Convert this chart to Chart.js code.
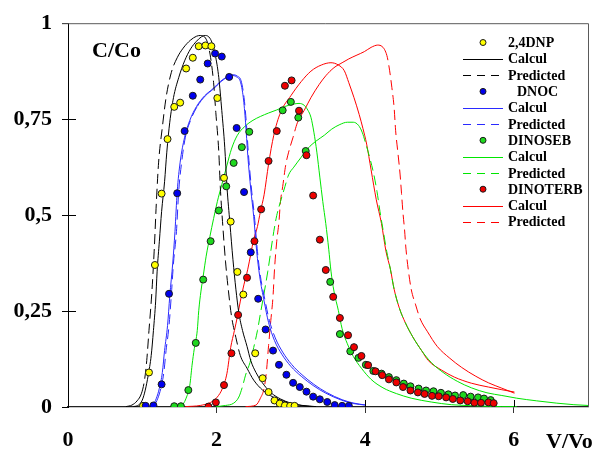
<!DOCTYPE html>
<html>
<head>
<meta charset="utf-8">
<script src="https://cdn.jsdelivr.net/npm/chart.js@4.4.0/dist/chart.umd.min.js"></script>
<style>
  html, body { margin: 0; padding: 0; background: #fff; }
  #wrap { width: 593px; height: 449px; }
</style>
</head>
<body>
<div id="wrap"><canvas id="breakthroughChart"></canvas></div>
<script>
// axis ticks
const xTicks = [0, 2, 4, 6];
const xTickLabels = ['0', '2', '4', '6'];
const yTicks = [0, 0.25, 0.5, 0.75, 1];
const yTickLabels = ['0', '0,25', '0,5', '0,75', '1'];

// measured points [V/Vo, C/Co]
const dnpPoints = [[1.01,0.003],[1.09,0.09],[1.17,0.37],[1.26,0.556],[1.34,0.698],[1.43,0.782],[1.51,0.793],[1.59,0.882],[1.68,0.910],[1.76,0.940],[1.85,0.942],[1.93,0.940],[2.01,0.805],[2.10,0.597],[2.19,0.483],[2.28,0.352],[2.36,0.293],[2.52,0.140],[2.62,0.075],[2.70,0.039],[2.78,0.017],[2.85,0.009],[2.92,0.004],[2.99,0.003],[3.05,0.003]];
const dnocPoints = [[1.045,0.003],[1.15,0.004],[1.26,0.059],[1.36,0.295],[1.47,0.557],[1.57,0.719],[1.68,0.811],[1.78,0.853],[1.88,0.895],[1.98,0.921],[2.07,0.913],[2.17,0.860],[2.27,0.727],[2.37,0.560],[2.46,0.403],[2.56,0.282],[2.66,0.202],[2.76,0.147],[2.84,0.110],[2.94,0.084],[3.03,0.063],[3.12,0.052],[3.21,0.040],[3.30,0.027],[3.39,0.020],[3.49,0.013],[3.59,0.005],[3.69,0.003],[3.78,0.003]];
const dinosebPoints = [[1.43,0.002],[1.52,0.002],[1.62,0.044],[1.72,0.167],[1.82,0.332],[1.92,0.432],[2.03,0.512],[2.13,0.575],[2.23,0.636],[2.34,0.677],[2.44,0.717],[2.89,0.773],[3.00,0.795],[3.10,0.754],[3.20,0.667],[3.53,0.326],[3.66,0.190],[3.80,0.145],[3.91,0.128],[4.01,0.110],[4.11,0.094],[4.22,0.087],[4.32,0.078],[4.42,0.070],[4.52,0.061],[4.61,0.054],[4.72,0.048],[4.82,0.043],[4.92,0.041],[5.02,0.037],[5.12,0.033],[5.21,0.030],[5.32,0.031],[5.42,0.027],[5.52,0.025],[5.60,0.022],[5.69,0.018]];
const dinoterbPoints = [[1.89,0.001],[1.99,0.012],[2.10,0.057],[2.20,0.140],[2.29,0.240],[2.41,0.337],[2.51,0.432],[2.60,0.515],[2.70,0.641],[2.81,0.719],[2.92,0.837],[3.01,0.851],[3.11,0.772],[3.21,0.656],[3.30,0.551],[3.39,0.436],[3.47,0.357],[3.57,0.287],[3.66,0.232],[3.77,0.187],[3.85,0.156],[3.95,0.133],[4.04,0.109],[4.14,0.093],[4.23,0.083],[4.32,0.072],[4.42,0.064],[4.51,0.052],[4.61,0.043],[4.71,0.038],[4.80,0.034],[4.90,0.029],[4.99,0.028],[5.09,0.025],[5.18,0.021],[5.28,0.017],[5.38,0.015],[5.47,0.011],[5.56,0.011],[5.66,0.012],[5.73,0.010]];

// model curves [V/Vo, C/Co]
const dnpCalcul = [[0.88,0.001],[0.95,0.005],[1.00,0.018],[1.04,0.044],[1.08,0.083],[1.12,0.134],[1.15,0.199],[1.18,0.276],[1.20,0.354],[1.23,0.432],[1.26,0.509],[1.30,0.587],[1.33,0.664],[1.37,0.742],[1.42,0.806],[1.49,0.858],[1.57,0.902],[1.65,0.933],[1.73,0.953],[1.80,0.965],[1.85,0.968],[1.91,0.961],[1.95,0.943],[1.99,0.910],[2.03,0.858],[2.07,0.773],[2.11,0.677],[2.14,0.574],[2.18,0.478],[2.22,0.385],[2.26,0.307],[2.30,0.245],[2.35,0.199],[2.41,0.158],[2.46,0.121],[2.53,0.090],[2.64,0.057],[2.74,0.036],[2.86,0.021],[3.00,0.010],[3.14,0.004],[3.30,0.001]];
const dnpPredicted = [[0.78,0.001],[0.86,0.005],[0.93,0.016],[0.99,0.036],[1.03,0.070],[1.06,0.121],[1.09,0.199],[1.13,0.302],[1.16,0.406],[1.19,0.535],[1.22,0.638],[1.27,0.729],[1.32,0.806],[1.39,0.871],[1.47,0.910],[1.55,0.935],[1.65,0.956],[1.73,0.966],[1.78,0.968],[1.84,0.964],[1.88,0.948],[1.92,0.910],[1.96,0.845],[1.99,0.767],[2.03,0.664],[2.05,0.574],[2.08,0.483],[2.12,0.380],[2.16,0.302],[2.20,0.238],[2.26,0.181],[2.32,0.134],[2.41,0.101],[2.50,0.070],[2.62,0.044],[2.76,0.026],[2.89,0.016],[3.03,0.008],[3.16,0.004],[3.34,0.001]];
const dnocCalcul = [[1.08,0.001],[1.14,0.005],[1.19,0.023],[1.23,0.049],[1.27,0.090],[1.30,0.147],[1.34,0.212],[1.37,0.289],[1.41,0.375],[1.44,0.457],[1.47,0.561],[1.51,0.638],[1.57,0.703],[1.64,0.747],[1.73,0.783],[1.84,0.811],[1.95,0.829],[2.05,0.848],[2.14,0.860],[2.20,0.864],[2.27,0.860],[2.32,0.848],[2.36,0.806],[2.39,0.742],[2.42,0.656],[2.46,0.568],[2.50,0.496],[2.54,0.406],[2.58,0.341],[2.64,0.276],[2.70,0.220],[2.78,0.173],[2.88,0.137],[3.00,0.106],[3.14,0.080],[3.30,0.056],[3.47,0.036],[3.68,0.018],[3.84,0.009],[4.01,0.005]];
const dnocPredicted = [[1.10,0.001],[1.16,0.005],[1.21,0.023],[1.25,0.049],[1.29,0.090],[1.32,0.147],[1.36,0.212],[1.39,0.289],[1.42,0.375],[1.46,0.457],[1.49,0.561],[1.53,0.638],[1.58,0.703],[1.65,0.747],[1.74,0.783],[1.85,0.811],[1.96,0.829],[2.06,0.848],[2.15,0.860],[2.21,0.866],[2.28,0.862],[2.33,0.850],[2.37,0.806],[2.40,0.742],[2.43,0.656],[2.47,0.568],[2.51,0.496],[2.55,0.406],[2.59,0.341],[2.65,0.280],[2.71,0.226],[2.79,0.180],[2.89,0.143],[3.01,0.111],[3.15,0.084],[3.31,0.059],[3.48,0.038],[3.69,0.019],[3.85,0.010],[4.01,0.005]];
const dinosebCalcul = [[1.49,0.001],[1.55,0.008],[1.59,0.023],[1.64,0.057],[1.67,0.109],[1.70,0.152],[1.74,0.199],[1.76,0.251],[1.79,0.302],[1.82,0.341],[1.86,0.393],[1.91,0.444],[1.96,0.491],[2.01,0.535],[2.07,0.579],[2.14,0.630],[2.20,0.672],[2.28,0.708],[2.38,0.731],[2.49,0.747],[2.59,0.757],[2.70,0.766],[2.81,0.774],[2.92,0.783],[3.03,0.789],[3.11,0.791],[3.18,0.786],[3.23,0.773],[3.27,0.755],[3.31,0.716],[3.35,0.664],[3.39,0.599],[3.43,0.535],[3.47,0.478],[3.51,0.411],[3.54,0.354],[3.58,0.302],[3.64,0.251],[3.69,0.204],[3.76,0.165],[3.84,0.132],[3.95,0.101],[4.08,0.072],[4.24,0.050],[4.42,0.035],[4.62,0.023],[4.89,0.013],[5.16,0.006],[5.50,0.003],[5.84,0.001],[6.04,0.001]];
const dinosebPredicted = [[1.99,0.001],[2.12,0.004],[2.23,0.010],[2.30,0.026],[2.35,0.054],[2.39,0.083],[2.45,0.116],[2.50,0.155],[2.55,0.199],[2.59,0.243],[2.64,0.297],[2.69,0.354],[2.73,0.406],[2.77,0.457],[2.81,0.499],[2.86,0.535],[2.92,0.574],[2.97,0.605],[3.04,0.625],[3.14,0.651],[3.23,0.674],[3.34,0.693],[3.45,0.708],[3.55,0.724],[3.66,0.736],[3.76,0.742],[3.84,0.742],[3.91,0.734],[3.96,0.716],[4.01,0.685],[4.06,0.651],[4.11,0.612],[4.16,0.561],[4.20,0.509],[4.24,0.463],[4.29,0.406],[4.34,0.359],[4.39,0.307],[4.46,0.258],[4.54,0.220],[4.64,0.183],[4.76,0.147],[4.89,0.116],[5.05,0.090],[5.24,0.067],[5.43,0.050],[5.64,0.037],[5.84,0.030],[6.04,0.023],[6.31,0.016],[6.58,0.010],[6.81,0.006],[7.0,0.004]];
const dinoterbCalcul = [[1.58,0.001],[1.78,0.004],[1.92,0.012],[2.01,0.026],[2.08,0.049],[2.14,0.088],[2.19,0.155],[2.24,0.199],[2.28,0.235],[2.32,0.276],[2.37,0.320],[2.42,0.359],[2.46,0.398],[2.50,0.437],[2.55,0.470],[2.59,0.509],[2.64,0.553],[2.70,0.633],[2.77,0.708],[2.86,0.767],[3.00,0.811],[3.14,0.848],[3.27,0.875],[3.41,0.891],[3.54,0.897],[3.64,0.891],[3.72,0.876],[3.78,0.845],[3.85,0.806],[3.92,0.762],[3.97,0.726],[4.02,0.685],[4.08,0.618],[4.15,0.540],[4.22,0.478],[4.28,0.406],[4.34,0.359],[4.39,0.307],[4.46,0.258],[4.54,0.220],[4.64,0.183],[4.76,0.147],[4.85,0.121],[5.03,0.096],[5.20,0.078],[5.43,0.062],[5.66,0.052],[5.84,0.045],[6.01,0.039]];
const dinoterbPredicted = [[2.39,0.001],[2.53,0.005],[2.59,0.023],[2.64,0.049],[2.67,0.090],[2.70,0.160],[2.73,0.225],[2.76,0.289],[2.78,0.359],[2.81,0.432],[2.84,0.483],[2.86,0.535],[2.89,0.574],[2.93,0.630],[2.97,0.664],[3.03,0.703],[3.09,0.742],[3.18,0.773],[3.27,0.806],[3.38,0.840],[3.47,0.863],[3.58,0.884],[3.69,0.897],[3.78,0.907],[3.89,0.917],[3.99,0.926],[4.08,0.937],[4.17,0.943],[4.23,0.939],[4.27,0.928],[4.30,0.910],[4.33,0.876],[4.36,0.832],[4.39,0.780],[4.41,0.721],[4.44,0.664],[4.47,0.607],[4.49,0.556],[4.51,0.504],[4.53,0.463],[4.55,0.411],[4.58,0.359],[4.62,0.307],[4.68,0.266],[4.74,0.230],[4.84,0.196],[4.97,0.158],[5.14,0.127],[5.30,0.103],[5.49,0.080],[5.66,0.063],[5.84,0.049],[6.01,0.036]];

const SERIF = "'Liberation Serif', 'Times New Roman', serif";

function pts(arr) {
    return arr.map(p => ({ x: p[0], y: p[1] }));
}

// the old plotting program restarts the dash on every segment,
// so steep parts look dashed and flat parts look solid
function steepDash(ctx) {
    const dx = Math.abs(ctx.p1.x - ctx.p0.x);
    const dy = Math.abs(ctx.p1.y - ctx.p0.y);
    return dy > 2 * dx ? [10, 5] : undefined;
}

function markerSet(label, data, color, order) {
    return {
        label: label,
        data: pts(data),
        showLine: false,
        pointRadius: 3.5,
        pointBackgroundColor: color,
        pointBorderColor: '#1a1a1a',
        pointBorderWidth: 1,
        backgroundColor: color,
        order: order,
        kind: 'marker'
    };
}

function curveSet(label, data, color, predicted) {
    const ds = {
        label: label,
        data: pts(data),
        showLine: true,
        pointRadius: 0,
        borderColor: color,
        borderWidth: 1,
        cubicInterpolationMode: 'monotone',
        order: 20,
        kind: predicted ? 'dash' : 'line'
    };
    if (predicted) ds.segment = { borderDash: steepDash };
    return ds;
}

const framePlugin = {
    id: 'frame',
    afterDraw(chart) {
        const { ctx, chartArea: a, scales } = chart;
        ctx.save();

        // top and right border
        ctx.strokeStyle = '#5a5a5a';
        ctx.lineWidth = 1;
        ctx.beginPath();
        ctx.moveTo(a.left - 6, a.top + 0.5);
        ctx.lineTo(a.right + 0.5, a.top + 0.5);
        ctx.lineTo(a.right + 0.5, a.bottom);
        ctx.stroke();

        // inner halves of the tick marks
        ctx.strokeStyle = '#000';
        ctx.beginPath();
        yTicks.filter(v => v > 0 && v < 1).forEach(v => {
            const py = Math.round(scales.y.getPixelForValue(v)) + 0.5;
            ctx.moveTo(a.left, py);
            ctx.lineTo(a.left + 8, py);
        });
        xTicks.filter(v => v > 2).forEach(v => {
            const px = Math.round(scales.x.getPixelForValue(v)) + 0.5;
            ctx.moveTo(px, a.bottom);
            ctx.lineTo(px, a.bottom - 7);
        });
        ctx.stroke();

        // axis titles
        ctx.fillStyle = '#000';
        ctx.font = 'bold 22px ' + SERIF;
        ctx.textAlign = 'left';
        ctx.textBaseline = 'alphabetic';
        ctx.fillText('C/Co', 92, 57);
        ctx.fillText('V/Vo', 546, 448);

        // legend
        ctx.font = 'bold 14px ' + SERIF;
        ctx.textBaseline = 'middle';
        let rowY = 42.5;
        chart.data.datasets.forEach(ds => {
            if (ds.kind === 'marker') {
                ctx.beginPath();
                ctx.setLineDash([]);
                ctx.arc(483, rowY, 3, 0, Math.PI * 2);
                ctx.fillStyle = ds.backgroundColor;
                ctx.fill();
                ctx.strokeStyle = '#1a1a1a';
                ctx.stroke();
            } else {
                ctx.beginPath();
                ctx.setLineDash(ds.kind === 'dash' ? [8, 6] : []);
                ctx.strokeStyle = ds.borderColor;
                ctx.moveTo(463, Math.round(rowY) + 0.5);
                ctx.lineTo(503, Math.round(rowY) + 0.5);
                ctx.stroke();
            }
            ctx.setLineDash([]);
            ctx.fillStyle = '#000';
            ctx.fillText(ds.label, ds.label === 'DNOC' ? 517 : 508, rowY + 1);
            rowY += 16.3;
        });
        ctx.restore();
    }
};

document.addEventListener('DOMContentLoaded', function() {
    const canvas = document.getElementById('breakthroughChart');
    new Chart(canvas, {
        type: 'line',
        data: {
            datasets: [
                markerSet('2,4DNP', dnpPoints, '#ffff00', 4),
                curveSet('Calcul', dnpCalcul, '#000000', false),
                curveSet('Predicted', dnpPredicted, '#000000', true),
                markerSet('DNOC', dnocPoints, '#0000ee', 3),
                curveSet('Calcul', dnocCalcul, '#2a2aff', false),
                curveSet('Predicted', dnocPredicted, '#2a2aff', true),
                markerSet('DINOSEB', dinosebPoints, '#1ed81e', 2),
                curveSet('Calcul', dinosebCalcul, '#00e600', false),
                curveSet('Predicted', dinosebPredicted, '#00e600', true),
                markerSet('DINOTERB', dinoterbPoints, '#ee0000', 1),
                curveSet('Calcul', dinoterbCalcul, '#ff0000', false),
                curveSet('Predicted', dinoterbPredicted, '#ff0000', true)
            ]
        },
        options: {
            responsive: true,
            maintainAspectRatio: false,
            animation: false,
            events: [],
            layout: { padding: { top: 20, right: 5, left: 0, bottom: 0 } },
            plugins: {
                legend: { display: false },
                tooltip: { enabled: false }
            },
            scales: {
                x: {
                    type: 'linear',
                    min: 0,
                    max: 7,
                    afterBuildTicks: s => { s.ticks = xTicks.map(v => ({ value: v })); },
                    afterFit: s => { s.height = 42; },
                    grid: {
                        drawOnChartArea: false,
                        tickLength: 6,
                        tickColor: c => (c.tick && c.tick.value === 0) ? 'rgba(0,0,0,0)' : '#333'
                    },
                    border: { color: '#222', width: 1.3 },
                    ticks: {
                        padding: 14,
                        maxRotation: 0,
                        color: '#000',
                        font: { family: SERIF, size: 22, weight: 'bold' },
                        callback: (v, i) => xTickLabels[i]
                    }
                },
                y: {
                    min: 0,
                    max: 1,
                    afterBuildTicks: s => { s.ticks = yTicks.map(v => ({ value: v })); },
                    afterFit: s => { s.width = 68; },
                    grid: { drawOnChartArea: false, tickLength: 6, tickColor: '#000' },
                    border: { color: '#000', width: 1 },
                    ticks: {
                        padding: 10,
                        color: '#000',
                        font: { family: SERIF, size: 22, weight: 'bold' },
                        callback: (v, i) => yTickLabels[i]
                    }
                }
            }
        },
        plugins: [framePlugin]
    });
});
</script>
</body>
</html>
